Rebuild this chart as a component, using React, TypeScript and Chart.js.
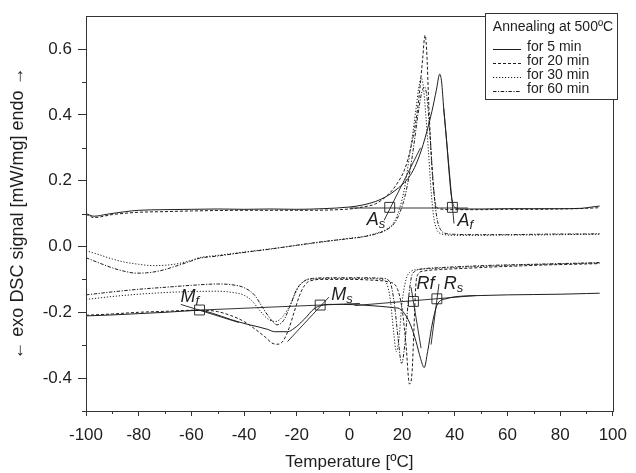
import React, { useEffect, useRef } from 'react';
import { Chart, registerables } from 'chart.js';

Chart.register(...registerables);

// ---------- axis ticks ----------
const xTicks = [-100, -80, -60, -40, -20, 0, 20, 40, 60, 80, 100];
const xTickLabels = ['-100', '-80', '-60', '-40', '-20', '0', '20', '40', '60', '80', '100'];
const xMinorTicks = [-90, -70, -50, -30, -10, 10, 30, 50, 70, 90];
const yTicks = [-0.4, -0.2, 0, 0.2, 0.4, 0.6];
const yTickLabels = ['-0.4', '-0.2', '0.0', '0.2', '0.4', '0.6'];
const yMinorTicks = [-0.5, -0.3, -0.1, 0.1, 0.3, 0.5];

const xTitle = 'Temperature [ºC]';
const yTitle = '\u2190 exo DSC signal [mW/mg] endo \u2192';
const legendTitle = 'Annealing at 500ºC';
const seriesLabels = ['for 5 min', 'for 20 min', 'for 30 min', 'for 60 min'];

// ---------- heating curves (upper) ----------
const heat5T = [-100, -97, -92, -85, -80, -70, -60, -50, -40, -30, -20, -10, 0, 5, 10, 14, 17, 20.3, 23, 25.3, 28, 31.3, 33, 34.3, 35, 35.8, 36.8, 37.8, 38.6, 39.5, 40.5, 42, 45, 50, 60, 70, 80, 88, 92, 95];
const heat5V = [0.100, 0.092, 0.098, 0.106, 0.110, 0.112, 0.113, 0.114, 0.113, 0.114, 0.113, 0.115, 0.120, 0.126, 0.137, 0.152, 0.168, 0.190, 0.215, 0.250, 0.310, 0.410, 0.475, 0.524, 0.500, 0.420, 0.330, 0.230, 0.160, 0.125, 0.117, 0.114, 0.114, 0.114, 0.115, 0.115, 0.115, 0.116, 0.120, 0.123];

const heat20T = [-100, -97, -90, -80, -70, -60, -40, -20, 0, 5, 10, 15, 18, 21, 23, 25, 26.5, 27.8, 28.7, 29.3, 30.2, 31.5, 32.8, 34, 36, 40, 50, 60, 70, 80, 90, 95];
const heat20V = [0.098, 0.088, 0.097, 0.104, 0.106, 0.108, 0.110, 0.110, 0.114, 0.120, 0.130, 0.160, 0.190, 0.235, 0.290, 0.370, 0.460, 0.570, 0.642, 0.600, 0.420, 0.220, 0.125, 0.115, 0.113, 0.112, 0.112, 0.113, 0.113, 0.114, 0.116, 0.118];

const heat30T = [-100, -95, -90, -85, -80, -75, -70, -65, -60, -57, -50, -40, -30, -23, -10, 0, 5, 10, 14, 17, 19, 21, 22.7, 24, 25.3, 26.3, 27.2, 28, 29, 30, 31, 32, 33, 34, 35, 37, 40, 50, 60, 70, 80, 90, 95];
const heat30V = [-0.013, -0.025, -0.038, -0.048, -0.054, -0.058, -0.057, -0.052, -0.042, -0.034, -0.027, -0.017, -0.007, 0.000, 0.014, 0.025, 0.030, 0.040, 0.052, 0.075, 0.115, 0.180, 0.270, 0.340, 0.420, 0.480, 0.513, 0.490, 0.400, 0.290, 0.170, 0.090, 0.055, 0.042, 0.038, 0.035, 0.034, 0.034, 0.035, 0.035, 0.036, 0.037, 0.037];

const heat60T = [-100, -95, -90, -85, -81, -77, -72, -66, -60, -57, -50, -40, -30, -20, -10, 0, 5, 10, 14, 17, 19, 21, 23, 24.5, 26, 27.5, 28.5, 29.5, 30.5, 31.5, 32.5, 33.5, 35, 37, 40, 50, 60, 70, 80, 90, 95];
const heat60V = [-0.034, -0.050, -0.065, -0.076, -0.081, -0.080, -0.074, -0.060, -0.044, -0.036, -0.029, -0.018, -0.008, 0.004, 0.015, 0.024, 0.029, 0.038, 0.050, 0.070, 0.100, 0.150, 0.230, 0.310, 0.400, 0.470, 0.485, 0.450, 0.350, 0.230, 0.130, 0.075, 0.047, 0.039, 0.037, 0.036, 0.036, 0.037, 0.038, 0.038, 0.039];

// ---------- cooling curves (lower) ----------
const cool5T = [-100, -90, -80, -70, -62, -57, -52, -45, -38, -34.7, -31, -28.4, -23.5, -21, -17, -13.4, -11, -8, -3, 5, 12, 17, 19, 22.7, 25.3, 27, 28.4, 29.7, 31.6, 33.5, 36.6, 40, 50, 60, 70, 80, 90, 95];
const cool5V = [-0.211, -0.208, -0.204, -0.200, -0.196, -0.194, -0.203, -0.222, -0.238, -0.244, -0.252, -0.259, -0.259, -0.249, -0.220, -0.189, -0.180, -0.176, -0.176, -0.178, -0.182, -0.186, -0.189, -0.229, -0.289, -0.340, -0.368, -0.319, -0.229, -0.174, -0.159, -0.153, -0.149, -0.147, -0.146, -0.145, -0.143, -0.142];

const cool20T = [-100, -90, -80, -70, -60, -55, -50, -45, -40, -36, -32, -29, -27, -25, -23, -21, -19, -17, -15, -10, 0, 10, 15, 18, 20, 21.5, 22.8, 23.8, 24.5, 25.2, 26, 28, 35, 45, 55, 65, 75, 85, 95];
const cool20V = [-0.209, -0.205, -0.200, -0.197, -0.194, -0.194, -0.198, -0.210, -0.228, -0.250, -0.275, -0.295, -0.297, -0.285, -0.250, -0.200, -0.150, -0.118, -0.105, -0.100, -0.100, -0.103, -0.108, -0.125, -0.190, -0.300, -0.418, -0.380, -0.250, -0.120, -0.085, -0.075, -0.070, -0.066, -0.062, -0.059, -0.056, -0.054, -0.052];

const cool30T = [-100, -90, -80, -70, -60, -50, -45, -40, -37, -34, -31, -28, -25, -22, -19.5, -17, -14, -5, 5, 12, 14, 15.5, 16.8, 17.8, 18.8, 20, 21.5, 23, 26, 35, 45, 55, 65, 75, 85, 95];
const cool30V = [-0.161, -0.152, -0.145, -0.140, -0.137, -0.136, -0.139, -0.148, -0.165, -0.195, -0.220, -0.228, -0.210, -0.170, -0.125, -0.105, -0.099, -0.097, -0.097, -0.100, -0.110, -0.160, -0.260, -0.320, -0.280, -0.170, -0.100, -0.078, -0.070, -0.066, -0.062, -0.059, -0.056, -0.054, -0.052, -0.050];

const cool60T = [-100, -90, -80, -70, -60, -50, -45, -40, -36, -33, -30, -27.5, -25, -22.5, -20, -17, -14, -5, 5, 13, 15.5, 17, 18.5, 19.8, 21, 22.3, 23.5, 25, 28, 35, 45, 55, 65, 75, 85, 95];
const cool60V = [-0.147, -0.138, -0.130, -0.124, -0.118, -0.114, -0.116, -0.125, -0.148, -0.185, -0.220, -0.238, -0.225, -0.180, -0.130, -0.104, -0.097, -0.095, -0.095, -0.097, -0.110, -0.170, -0.280, -0.355, -0.300, -0.170, -0.095, -0.075, -0.068, -0.064, -0.060, -0.057, -0.055, -0.053, -0.051, -0.049];

// ---------- transition points ----------
const transitionNames = ['As', 'Af', 'Mf', 'Ms', 'Rf', 'Rs'];
const transitionT = [15.3, 39.1, -56.9, -11.1, 24.3, 33.2];
const transitionV = [0.119, 0.119, -0.193, -0.178, -0.167, -0.159];

// ---------- construction lines (baselines and tangents) ----------
const baseAT = [0, 45];
const baseAV = [0.117, 0.117];
const tanAsT = [13.2, 27];
const tanAsV = [0.08, 0.3];
const tanAfT = [35.8, 39.7];
const tanAfV = [0.42, 0.07];
const baseMT = [-62, 4];
const baseMV = [-0.195, -0.173];
const tanMfT = [-64, -42];
const tanMfV = [-0.176, -0.231];
const tanMsT = [-23.5, -7.8];
const tanMsV = [-0.289, -0.154];
const baseRT = [2, 48];
const baseRV = [-0.1795, -0.149];
const tanRfT = [23.4, 27.2];
const tanRfV = [-0.124, -0.309];
const tanRsT = [34, 31];
const tanRsV = [-0.114, -0.298];

// ---------- styles ----------
const INK = '#1e1e1e';
const FONT = '"Liberation Sans", Arial, Helvetica, sans-serif';
const seriesDash: number[][] = [[], [3, 2], [1.2, 1.8], [3.5, 1.5, 1.2, 1.5]];
// label offsets (pixels) relative to each transition square: [dx, dy, subscript?]
const labelOffsets: [number, number, boolean][] = [
  [-23, 18, true],
  [5, 19, true],
  [-19, -8, true],
  [11, -5, true],
  [3, -12, false],
  [7, -10, true],
];

const zip = (t: number[], v: number[]) => t.map((x, i) => ({ x, y: v[i] }));

const curve = (t: number[], v: number[], s: number) => ({
  data: zip(t, v),
  borderColor: INK,
  borderWidth: 1,
  borderDash: seriesDash[s],
  pointRadius: 0,
  cubicInterpolationMode: 'monotone' as const,
  fill: false,
});

const segment = (t: number[], v: number[]) => ({
  data: zip(t, v),
  borderColor: INK,
  borderWidth: 0.9,
  pointRadius: 0,
  tension: 0,
  fill: false,
});

const framePlugin = {
  id: 'frameAndMinor',
  afterDraw(chart: any) {
    const { ctx, chartArea } = chart;
    const xs = chart.scales.x;
    const ys = chart.scales.y;
    ctx.save();
    ctx.strokeStyle = '#333';
    ctx.lineWidth = 1;
    ctx.strokeRect(Math.round(chartArea.left) + 0.5, Math.round(chartArea.top) + 0.5,
      Math.round(chartArea.right - chartArea.left), Math.round(chartArea.bottom - chartArea.top));
    ctx.beginPath();
    xMinorTicks.forEach((v) => {
      const px = Math.round(xs.getPixelForValue(v)) + 0.5;
      ctx.moveTo(px, chartArea.bottom);
      ctx.lineTo(px, chartArea.bottom + 3);
    });
    yMinorTicks.forEach((v) => {
      const py = Math.round(ys.getPixelForValue(v)) + 0.5;
      ctx.moveTo(chartArea.left - 4, py);
      ctx.lineTo(chartArea.left, py);
    });
    ctx.stroke();

    // transition labels
    ctx.fillStyle = INK;
    ctx.textBaseline = 'alphabetic';
    ctx.textAlign = 'left';
    transitionNames.forEach((name, i) => {
      const px = xs.getPixelForValue(transitionT[i]);
      const py = ys.getPixelForValue(transitionV[i]);
      const [dx, dy, sub] = labelOffsets[i];
      const bx = px + dx;
      const by = py + dy;
      const main = name[0];
      const rest = name.slice(1);
      ctx.font = `italic 18px ${FONT}`;
      ctx.fillText(main, bx, by);
      const w = ctx.measureText(main).width;
      if (sub) {
        ctx.font = `italic 13px ${FONT}`;
        ctx.fillText(rest, bx + w, by + 3);
      } else {
        ctx.fillText(rest, bx + w, by);
      }
    });

    // legend box
    const lx = 485, ly = 13, lw = 132, lh = 86;
    ctx.fillStyle = '#fff';
    ctx.fillRect(lx, ly, lw, lh);
    ctx.strokeStyle = '#333';
    ctx.setLineDash([]);
    ctx.strokeRect(lx + 0.5, ly + 0.5, lw, lh);
    ctx.fillStyle = INK;
    ctx.font = `14px ${FONT}`;
    ctx.textAlign = 'center';
    ctx.textBaseline = 'middle';
    ctx.fillText(legendTitle, lx + lw / 2 + 2, ly + 14);
    ctx.textAlign = 'left';
    seriesLabels.forEach((lab, i) => {
      const cy = ly + 34 + i * 14;
      ctx.fillStyle = INK;
      ctx.fillText(lab, lx + 42, cy);
      ctx.beginPath();
      ctx.setLineDash(seriesDash[i]);
      ctx.strokeStyle = INK;
      ctx.lineWidth = 1;
      ctx.moveTo(lx + 8, cy + 2.5);
      ctx.lineTo(lx + 36, cy + 2.5);
      ctx.stroke();
    });
    ctx.setLineDash([]);
    ctx.restore();
  },
};

export default function App() {
  const ref = useRef<HTMLCanvasElement | null>(null);

  useEffect(() => {
    document.body.style.margin = '0';
    if (!ref.current) return;
    const datasets: any[] = [
      curve(heat5T, heat5V, 0),
      curve(heat20T, heat20V, 1),
      curve(heat30T, heat30V, 2),
      curve(heat60T, heat60V, 3),
      curve(cool5T, cool5V, 0),
      curve(cool20T, cool20V, 1),
      curve(cool30T, cool30V, 2),
      curve(cool60T, cool60V, 3),
      segment(baseAT, baseAV),
      segment(tanAsT, tanAsV),
      segment(tanAfT, tanAfV),
      segment(baseMT, baseMV),
      segment(tanMfT, tanMfV),
      segment(tanMsT, tanMsV),
      segment(baseRT, baseRV),
      segment(tanRfT, tanRfV),
      segment(tanRsT, tanRsV),
      {
        data: zip(transitionT, transitionV),
        showLine: false,
        pointStyle: 'rect',
        pointRadius: 7,
        pointBorderWidth: 1,
        pointBorderColor: '#333',
        pointBackgroundColor: 'rgba(0,0,0,0)',
      },
    ];
    const chart = new Chart(ref.current, {
      type: 'line',
      data: { datasets },
      options: {
        animation: false,
        responsive: false,
        devicePixelRatio: 1,
        parsing: true,
        layout: { padding: { left: 0, right: 17, top: 11, bottom: 0 } },
        plugins: { legend: { display: false }, tooltip: { enabled: false } },
        scales: {
          x: {
            type: 'linear',
            min: -100,
            max: 100,
            afterBuildTicks: (s: any) => { s.ticks = xTicks.map((v) => ({ value: v })); },
            afterFit: (s: any) => { s.height = 62; },
            ticks: {
              autoSkip: false,
              maxRotation: 0,
              padding: 9,
              color: INK,
              font: { family: FONT, size: 17 },
              callback: (_v: any, i: number) => xTickLabels[i],
            },
            grid: { display: true, drawOnChartArea: false, drawTicks: true, tickLength: 5, color: '#333' },
            border: { display: true, color: '#333' },
            title: { display: true, text: xTitle, color: INK, font: { family: FONT, size: 17 }, padding: { top: 0, bottom: 0 } },
          },
          y: {
            type: 'linear',
            min: -0.5,
            max: 0.7,
            afterBuildTicks: (s: any) => { s.ticks = yTicks.map((v) => ({ value: v })); },
            afterFit: (s: any) => { s.width = 86; },
            ticks: {
              padding: 6,
              color: INK,
              font: { family: FONT, size: 17 },
              callback: (_v: any, i: number) => yTickLabels[i],
            },
            grid: { display: true, drawOnChartArea: false, drawTicks: true, tickLength: 8, color: '#333' },
            border: { display: true, color: '#333' },
            title: { display: true, text: yTitle, color: INK, font: { family: FONT, size: 18 }, padding: { top: 7, bottom: 0 } },
          },
        },
      },
      plugins: [framePlugin],
    });
    return () => chart.destroy();
  }, []);

  return (
    <div style={{ width: 636, height: 473 }}>
      <canvas ref={ref} width={636} height={473} style={{ display: 'block', width: 636, height: 473 }} />
    </div>
  );
}
